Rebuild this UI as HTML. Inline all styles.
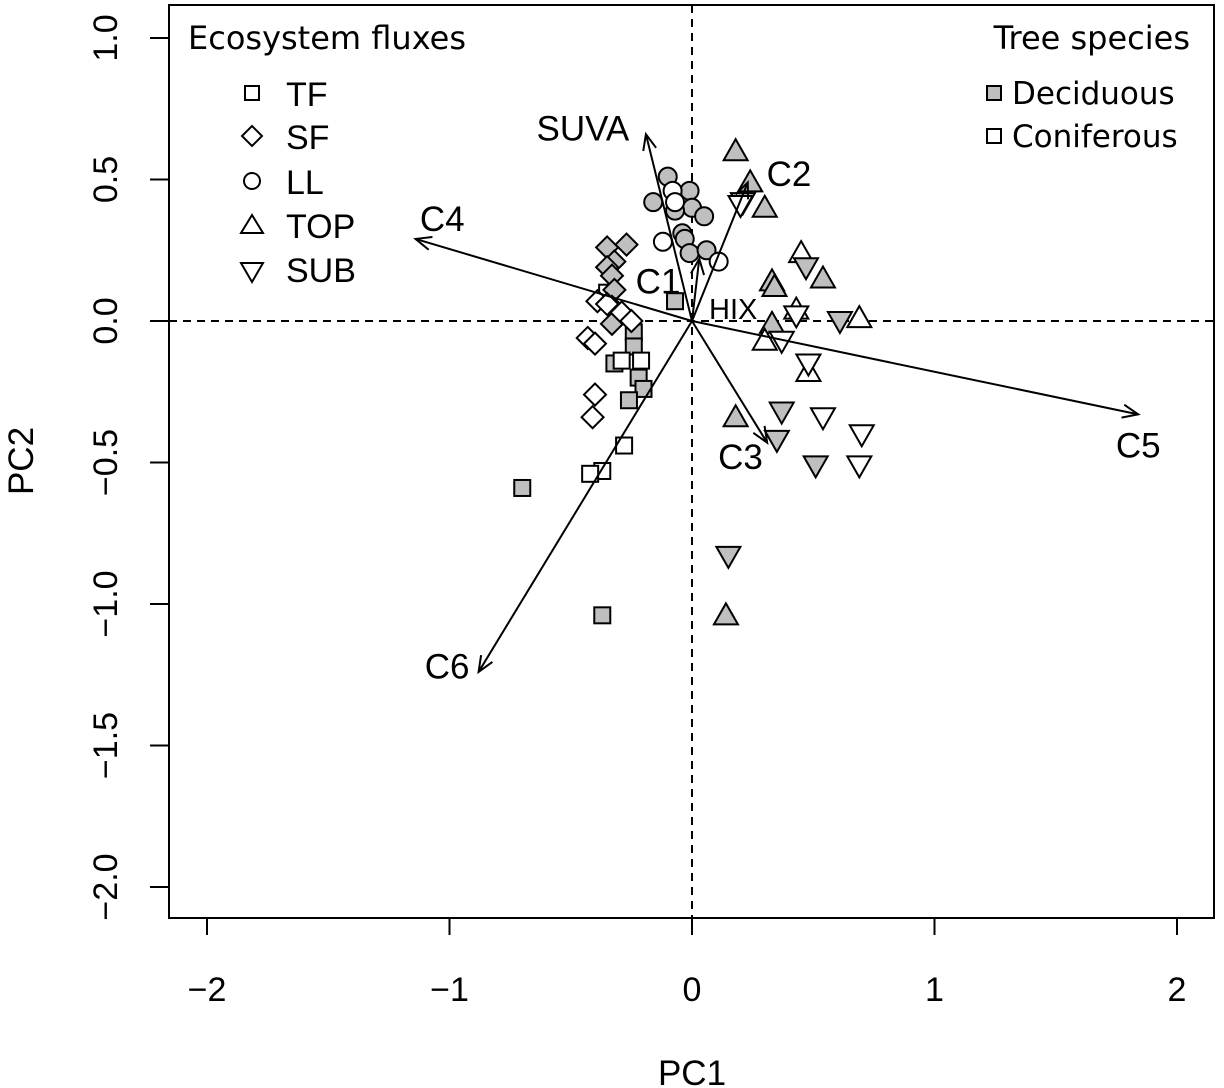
<!DOCTYPE html>
<html><head><meta charset="utf-8"><style>
body{margin:0;background:#fff}
svg{display:block}
text{font-family:"Liberation Sans",sans-serif;fill:#000}
</style></head><body>
<svg id="c" width="1224" height="1088" viewBox="0 0 1224 1088"></svg>
<script>
// data arrays
const xTicks=[-2,-1,0,1,2];
const yTicks=[1.0,0.5,0.0,-0.5,-1.0,-1.5,-2.0];
const yTickLabels=["1.0","0.5","0.0","\u22120.5","\u22121.0","\u22121.5","\u22122.0"];
const xTickLabels=["\u22122","\u22121","0","1","2"];
// points: [x,y]
const llDec=[[-0.10,0.51],[-0.01,0.46],[-0.16,0.42],[0.00,0.40],[0.05,0.37],[-0.04,0.31],[-0.03,0.29],[-0.01,0.24],[0.06,0.25],[-0.07,0.39]];
const llCon=[[-0.08,0.46],[-0.07,0.42],[-0.12,0.28],[0.11,0.21]];
const sfDec=[[-0.35,0.26],[-0.27,0.27],[-0.32,0.21],[-0.35,0.19],[-0.33,0.16],[-0.32,0.11],[-0.33,0.05],[-0.33,-0.01]];
const sfCon=[[-0.39,0.07],[-0.35,0.06],[-0.29,0.03],[-0.25,0.00],[-0.43,-0.06],[-0.40,-0.08],[-0.40,-0.26],[-0.41,-0.34]];
const tfDec=[[-0.07,0.07],[-0.24,-0.04],[-0.24,-0.09],[-0.32,-0.15],[-0.22,-0.20],[-0.20,-0.24],[-0.26,-0.28],[-0.70,-0.59],[-0.37,-1.04]];
const tfCon=[[-0.35,0.10],[-0.29,-0.14],[-0.21,-0.14],[-0.28,-0.44],[-0.37,-0.53],[-0.42,-0.54]];
const topDec=[[0.18,0.60],[0.24,0.49],[0.30,0.40],[0.33,0.14],[0.34,0.12],[0.54,0.15],[0.33,-0.01],[0.18,-0.34],[0.14,-1.04]];
const topCon=[[0.45,0.24],[0.43,0.04],[0.69,0.01],[0.30,-0.07],[0.48,-0.18]];
const subDec=[[0.21,0.42],[0.47,0.19],[0.61,0.00],[0.37,-0.32],[0.35,-0.42],[0.51,-0.51],[0.15,-0.83]];
const subCon=[[0.20,0.41],[0.43,0.02],[0.37,-0.07],[0.48,-0.15],[0.54,-0.34],[0.70,-0.40],[0.69,-0.51]];
const arrowNames=["SUVA","C2","C4","C1","C5","C3","C6","HIX"];
const arrowX=[-0.19,0.23,-1.14,0.03,1.84,0.31,-0.88,0.01];
const arrowY=[0.66,0.49,0.29,0.22,-0.33,-0.43,-1.24,-0.005];
const arrowLabelX=[-0.45,0.40,-1.03,-0.14,1.84,0.20,-1.01,0.17];
const arrowLabelY=[0.68,0.52,0.36,0.14,-0.44,-0.48,-1.22,0.05];

const NS="http://www.w3.org/2000/svg";
const svg=document.getElementById('c');
const sx=v=>692+v*242.5;
const sy=v=>321-v*283;
function mk(t,a,p){const e=document.createElementNS(NS,t);for(const k in a)e.setAttribute(k,a[k]);(p||svg).appendChild(e);return e;}
// frame
const fr=mk('rect',{x:169,y:5,width:1045,height:913,fill:'none',stroke:'#000','stroke-width':2});


// axes
xTicks.forEach((v,i)=>{
  const l=mk('line',{x1:sx(v),x2:sx(v),y1:918,y2:935,stroke:'#000','stroke-width':2});
  
  
  const t=mk('text',{x:sx(v),y:1001,'font-size':34,'text-anchor':'middle'});t.textContent=xTickLabels[i];
  
  
});
yTicks.forEach((v,i)=>{
  const l=mk('line',{x1:150,x2:169,y1:sy(v),y2:sy(v),stroke:'#000','stroke-width':2});
  
  
  const t=mk('text',{x:0,y:0,'font-size':34,'text-anchor':'middle',transform:`translate(117,${sy(v)}) rotate(-90)`});t.textContent=yTickLabels[i];
  
  
});
let t=mk('text',{x:692,y:1085,'font-size':35,'text-anchor':'middle'});t.textContent='PC1';


t=mk('text',{x:0,y:0,'font-size':35,'text-anchor':'middle',transform:'translate(33,461) rotate(-90)'});t.textContent='PC2';


// zero lines
let z=mk('line',{x1:169,x2:1214,y1:sy(0),y2:sy(0),stroke:'#000','stroke-width':2,'stroke-dasharray':'8,6'});


z=mk('line',{x1:sx(0),x2:sx(0),y1:5,y2:918,stroke:'#000','stroke-width':2,'stroke-dasharray':'8,6'});


// markers
function marker(shape,cx,cy,fill,sc){
  sc=sc||1;let e;
  if(shape==='sq'){const s=8*sc;e=mk('rect',{x:cx-s,y:cy-s,width:2*s,height:2*s});}
  else if(shape==='ci'){e=mk('circle',{cx:cx,cy:cy,r:9*sc});}
  else if(shape==='di'){const s=11*sc;e=mk('polygon',{points:`${cx},${cy-s} ${cx+s},${cy} ${cx},${cy+s} ${cx-s},${cy}`});}
  else if(shape==='up'){const s=12*sc;e=mk('polygon',{points:`${cx},${cy-s} ${cx+s},${cy+s*0.75} ${cx-s},${cy+s*0.75}`});}
  else {const s=12*sc;e=mk('polygon',{points:`${cx},${cy+s} ${cx+s},${cy-s*0.75} ${cx-s},${cy-s*0.75}`});}
  e.setAttribute('fill',fill);e.setAttribute('stroke','#000');e.setAttribute('stroke-width',2);
  return e;
}
const sets=[[tfDec,'sq','#bfbfbf','tf-deciduous'],[tfCon,'sq','#fff','tf-coniferous'],[sfDec,'di','#bfbfbf','sf-deciduous'],[sfCon,'di','#fff','sf-coniferous'],
[llDec,'ci','#bfbfbf','ll-deciduous'],[llCon,'ci','#fff','ll-coniferous'],[topDec,'up','#bfbfbf','top-deciduous'],[topCon,'up','#fff','top-coniferous'],[subDec,'dn','#bfbfbf','sub-deciduous'],[subCon,'dn','#fff','sub-coniferous']];
sets.forEach(s=>s[0].forEach(p=>{const e=marker(s[1],sx(p[0]),sy(p[1]),s[2]);
  
  
}));
// arrows
arrowNames.forEach((n,i)=>{
  const x1=sx(0),y1=sy(0),x2=sx(arrowX[i]),y2=sy(arrowY[i]);
  const g=mk('g',{});
  
  
  mk('line',{x1,y1,x2,y2,stroke:'#000','stroke-width':2},g);
  const a=Math.atan2(y2-y1,x2-x1),L=17,w=0.4;
  if(Math.hypot(x2-x1,y2-y1)>5){
  mk('polyline',{points:`${x2-L*Math.cos(a-w)},${y2-L*Math.sin(a-w)} ${x2},${y2} ${x2-L*Math.cos(a+w)},${y2-L*Math.sin(a+w)}`,fill:'none',stroke:'#000','stroke-width':2},g);}
  const tx=mk('text',{x:sx(arrowLabelX[i]),y:sy(arrowLabelY[i])+12,'font-size':n==='HIX'?29:35,'text-anchor':'middle'},g);
  tx.textContent=n;
});
</script>
<svg width="1224" height="1088" style="position:absolute;left:0;top:0">
<g>
<text x="188" y="49" font-size="32" style="font-family:'DejaVu Sans',sans-serif">Ecosystem fluxes</text>
<rect x="245" y="86" width="14" height="14" fill="#fff" stroke="#000" stroke-width="2"/>
<text x="286" y="106" font-size="34">TF</text>
<polygon points="252,126 262,136 252,146 242,136" fill="#fff" stroke="#000" stroke-width="2"/>
<text x="286" y="149" font-size="34">SF</text>
<circle cx="252" cy="181" r="8" fill="#fff" stroke="#000" stroke-width="2"/>
<text x="286" y="194" font-size="34">LL</text>
<polygon points="252,215 263,233 241,233" fill="#fff" stroke="#000" stroke-width="2"/>
<text x="286" y="238" font-size="34">TOP</text>
<polygon points="252,282 263,263 241,263" fill="#fff" stroke="#000" stroke-width="2"/>
<text x="286" y="282" font-size="34">SUB</text>
</g>
<g>
<text x="1190" y="49" font-size="32" text-anchor="end" style="font-family:'DejaVu Sans',sans-serif">Tree species</text>
<rect x="987" y="86" width="14" height="14" fill="#bfbfbf" stroke="#000" stroke-width="2"/>
<text x="1012" y="104" font-size="31" style="font-family:'DejaVu Sans',sans-serif">Deciduous</text>
<rect x="987" y="129" width="14" height="14" fill="#fff" stroke="#000" stroke-width="2"/>
<text x="1012" y="147" font-size="31" style="font-family:'DejaVu Sans',sans-serif">Coniferous</text>
</g>
</svg>
</body></html>
